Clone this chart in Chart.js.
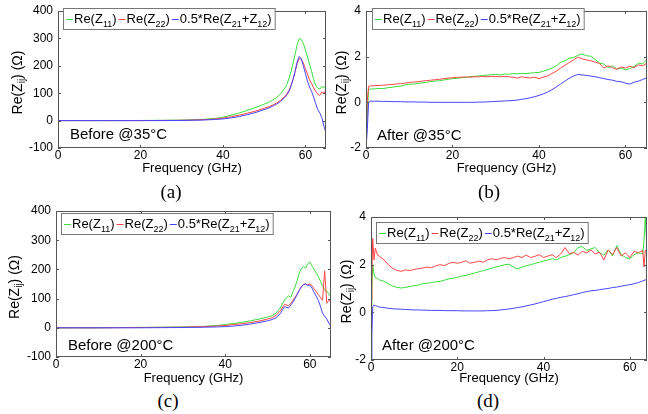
<!DOCTYPE html>
<html>
<head>
<meta charset="utf-8">
<script src="https://cdn.jsdelivr.net/npm/chart.js@4.4.1/dist/chart.umd.min.js"></script>
<style>
  body { margin: 0; background: #fff; width: 648px; height: 414px; position: relative; overflow: hidden; }
  canvas { position: absolute; }
  .cap { position: absolute; font-family: "Liberation Serif", "Times New Roman", serif; font-size: 19px;
         transform: translate(-50%, -50%); line-height: 1; color: #000; }
</style>
</head>
<body>
<canvas id="ca" width="330" height="175" style="left:0;top:0"></canvas>
<canvas id="cb" width="318" height="175" style="left:330px;top:0"></canvas>
<canvas id="cc" width="334" height="185" style="left:0;top:200px"></canvas>
<canvas id="cd" width="314" height="185" style="left:334px;top:200px"></canvas>
<div class="cap" style="left:171px;top:191px">(a)</div>
<div class="cap" style="left:489px;top:191px">(b)</div>
<div class="cap" style="left:168px;top:400px">(c)</div>
<div class="cap" style="left:488px;top:400px">(d)</div>
<script>
// frequency grids (GHz)
const freqAC = [0,5,10,15,20,25,30,35,38,40,42,44,46,48,50,51,52,53,54,55,55.5,56,56.5,57,57.5,58,58.5,59,59.5,60,60.5,61,61.5,62,62.5,63,63.5,64,64.5,65];
const freqB = [0,0.3,0.6,1,2,3,4,5,6,7,8,9,10,11,12,13,14,15,16,17,18,19,20,21,22,23,24,25,26,27,28,29,30,31,32,33,34,35,36,37,38,39,40,41,42,43,44,45,46,47,48,49,50,51,52,53,54,55,56,57,58,59,60,61,62,63,64,65];
const freqD = [0,0.2,0.4,0.7,1,1.5,2,3,4,5,6,7,8,9,10,11,12,13,14,15,16,17,18,19,20,21,22,23,24,25,26,27,28,29,30,31,32,33,34,35,36,37,38,39,40,41,42,43,44,45,46,47,48,49,50,51,52,53,54,55,56,57,58,59,60,61,62,63,63.3,63.6,64];

// (a) Before @35°C
const a11 = [0,0,0,0,0.5,1,2,4,8,12,20,28,38,48,60,66,74,84,98,118,132,152,178,208,242,276,300,296,282,258,232,206,180,150,128,118,115,125,120,130];
const a22 = [0,0,0,0,0,0.5,1,3,6,9,14,20,27,35,45,50,56,64,74,88,97,110,128,150,178,208,226,224,210,190,170,150,135,120,106,96,92,104,100,112];
const a12 = [0,0,0,0,0,0,0.5,2,4,6,10,15,22,30,40,45,52,60,70,84,94,106,125,150,180,214,234,226,200,172,145,122,106,86,62,40,28,10,-20,-45];

// (b) After @35°C
const b11 = [-2,-0.6,0.56,0.58,
  0.59,0.61,0.6,0.64,0.66,0.69,0.71,0.76,0.79,0.8,
  0.83,0.85,0.88,0.91,0.93,0.95,0.98,1.01,1.04,1.05,
  1.08,1.09,1.12,1.14,1.15,1.18,1.19,1.21,1.22,1.2,
  1.24,1.23,1.26,1.25,1.27,1.26,1.28,1.3,1.31,1.36,
  1.42,1.5,1.6,1.74,1.82,1.93,1.96,2.06,2.12,2.04,
  2.02,1.88,1.72,1.68,1.52,1.6,1.46,1.5,1.42,1.48,
  1.56,1.72,1.68,1.9];
const b22 = [-2,0.1,0.7,0.72,
  0.73,0.74,0.75,0.77,0.78,0.8,0.82,0.84,0.87,0.89,
  0.9,0.93,0.95,0.97,0.99,1.01,1.04,1.06,1.08,1.09,
  1.1,1.11,1.1,1.12,1.12,1.13,1.12,1.14,1.13,1.12,
  1.14,1.12,1.1,1.06,1.12,1.08,1.07,1.1,1.04,1.1,
  1.16,1.26,1.36,1.5,1.62,1.74,1.86,1.98,1.9,1.86,
  1.82,1.76,1.7,1.5,1.6,1.52,1.45,1.55,1.5,1.58,
  1.52,1.64,1.6,1.72];
const b12 = [-2,-1.2,0,0.05,
  0.05,0.05,0.04,0.04,0.03,0.03,0.03,0.02,0.02,0.02,
  0.01,0.01,0.01,0,0,0,0,0,0,0,
  0,0,0,0,0.01,0.01,0.02,0.03,0.04,0.05,
  0.06,0.07,0.08,0.1,0.13,0.16,0.2,0.25,0.3,0.37,
  0.45,0.55,0.67,0.8,0.93,1.05,1.15,1.22,1.2,1.18,
  1.15,1.12,1.08,1.04,1,0.97,0.92,0.9,0.84,0.8,
  0.88,0.93,1,1.08];

// (c) Before @200°C
const c11 = [0,0,0,1,1.5,2,3,5,8,11,15,19,24,30,37,41,50,68,95,110,104,124,140,162,188,202,210,204,220,225,212,200,188,176,160,142,130,126,115,106];
const c22 = [0,0,0,0.5,1,1.5,2,4,6,8,11,14,18,23,30,34,42,58,80,76,84,94,104,116,130,140,148,150,147,151,144,134,124,114,104,94,195,84,94,92];
const c12 = [0,0,0,0,0,0.5,1,2,3,4,6,9,13,18,24,28,34,48,72,68,78,88,100,114,128,140,148,150,145,146,136,122,108,94,74,50,40,30,16,5];

// (d) After @200°C
const d11 = [0.3,1.0,2.0,1.6,1.45,1.42,1.36,
  1.3,1.2,1.1,1.05,1.02,1.05,1.08,1.12,1.15,1.2,
  1.22,1.25,1.28,1.3,1.35,1.4,1.43,1.47,1.52,1.55,
  1.6,1.65,1.7,1.75,1.8,1.85,1.9,1.95,2.0,2.02,
  1.9,1.82,1.9,1.95,2.0,2.05,2.1,2.15,2.2,2.25,
  2.2,2.3,2.35,2.42,2.5,2.72,2.76,2.6,2.66,2.72,
  2.5,2.4,2.62,2.36,2.8,2.42,2.3,2.25,2.42,2.5,
  2.45,3.0,4.0,2.6];
const d22 = [0.5,1.6,3.1,2.2,2.7,2.4,2.35,
  2.2,2.0,1.85,1.76,1.72,1.78,1.75,1.8,1.83,1.86,
  1.9,1.87,1.95,2.0,1.96,2.05,2.1,2.06,2.1,2.16,
  2.06,2.1,2.15,2.1,2.2,2.25,2.2,2.26,2.3,2.24,
  2.3,2.36,2.3,2.4,2.3,2.35,2.42,2.3,2.36,2.42,
  2.3,2.45,2.72,2.45,2.52,2.4,2.56,2.5,2.62,2.46,
  2.52,2.2,2.62,2.42,2.72,2.36,2.5,2.3,2.56,2.5,
  2.6,1.9,2.6,2.5];
const d12 = [-2,-1.0,0.25,0.3,0.28,0.25,0.22,
  0.2,0.17,0.15,0.14,0.13,0.12,0.11,0.1,0.1,0.09,
  0.09,0.08,0.08,0.08,0.07,0.07,0.07,0.07,0.06,0.06,
  0.06,0.06,0.06,0.06,0.07,0.07,0.08,0.1,0.12,0.14,
  0.17,0.2,0.23,0.27,0.31,0.35,0.4,0.45,0.5,0.55,
  0.59,0.63,0.66,0.7,0.74,0.78,0.83,0.87,0.9,0.92,
  0.95,0.98,1.0,1.04,1.06,1.1,1.13,1.16,1.2,1.25,
  1.32,1.34,1.36,1.38];

const colors = ['#3ade3a', '#ff4545', '#4545ff'];
const seriesNames = [
  [['Re(Z', 0], ['11', 1], [')', 0]],
  [['Re(Z', 0], ['22', 1], [')', 0]],
  [['0.5*Re(Z', 0], ['21', 1], ['+Z', 0], ['12', 1], [')', 0]]
];
const yTitle = [['Re(Z', 0], ['ij', 1], [') (\u03a9)', 0]];
const SANS = '"Liberation Sans", Arial, sans-serif';

// draws text with subscripts, returns width
function drawRich(ctx, parts, x, y, size) {
  let w = 0;
  parts.forEach(p => {
    const s = p[1] ? Math.round(size * 0.7) : size;
    ctx.font = s + 'px ' + SANS;
    ctx.fillText(p[0], x + w, y + (p[1] ? size * 0.3 : 0));
    w += ctx.measureText(p[0]).width;
  });
  return w;
}

function richWidth(ctx, parts, size) {
  let w = 0;
  parts.forEach(p => {
    ctx.font = (p[1] ? Math.round(size * 0.7) : size) + 'px ' + SANS;
    w += ctx.measureText(p[0]).width;
  });
  return w;
}

const decor = {
  id: 'decor',
  afterDraw(chart, args, opts) {
    const ctx = chart.ctx;
    const {left, right, top, bottom} = chart.chartArea;
    const xs = chart.scales.x, ys = chart.scales.y;
    ctx.save();
    // axes box + inner ticks
    ctx.strokeStyle = '#555';
    ctx.lineWidth = 1;
    ctx.strokeRect(left + 0.5, top + 0.5, right - left - 1, bottom - top - 1);
    ctx.beginPath();
    xs.ticks.forEach(t => {
      const px = Math.round(xs.getPixelForValue(t.value)) + 0.5;
      ctx.moveTo(px, bottom); ctx.lineTo(px, bottom - 3);
      ctx.moveTo(px, top); ctx.lineTo(px, top + 3);
    });
    ys.ticks.forEach(t => {
      const py = Math.round(ys.getPixelForValue(t.value)) + 0.5;
      ctx.moveTo(left, py); ctx.lineTo(left + 3, py);
      ctx.moveTo(right, py); ctx.lineTo(right - 3, py);
    });
    ctx.stroke();

    // legend
    const lx = opts.legendX, ly = opts.legendY, lh = 21;
    let w = 4;
    seriesNames.forEach(n => { w += 8 + richWidth(ctx, n, 13) + 2; });
    ctx.fillStyle = '#fff';
    ctx.fillRect(lx, ly, w, lh);
    ctx.strokeStyle = '#777';
    ctx.strokeRect(lx + 0.5, ly + 0.5, w, lh);
    let x = lx + 3;
    seriesNames.forEach((n, i) => {
      ctx.strokeStyle = colors[i];
      ctx.beginPath();
      ctx.moveTo(x, ly + 11.5); ctx.lineTo(x + 7, ly + 11.5);
      ctx.stroke();
      x += 8;
      ctx.fillStyle = '#000';
      ctx.textBaseline = 'alphabetic';
      x += drawRich(ctx, n, x, ly + 15, 13) + 2;
    });

    // annotation
    ctx.fillStyle = '#000';
    ctx.font = '15px ' + SANS;
    ctx.textBaseline = 'middle';
    ctx.fillText(opts.note, opts.noteX, opts.noteY);

    // y axis title
    ctx.translate(opts.titleX, (top + bottom) / 2 + 3);
    ctx.rotate(-Math.PI / 2);
    ctx.textBaseline = 'middle';
    const tw = richWidth(ctx, yTitle, 14);
    drawRich(ctx, yTitle, -tw / 2, 0, 14);
    ctx.restore();
  }
};

function makeChart(id, freq, vals, yMin, yMax, yStep, xMax, area, deco) {
  const cv = document.getElementById(id);
  const W = cv.width, H = cv.height;
  const datasets = vals.map((v, i) => ({
    data: freq.map((f, k) => ({x: f, y: v[k]})),
    borderColor: colors[i],
    borderWidth: 1,
    pointRadius: 0,
    fill: false,
    tension: 0,
    order: 2 - i
  }));
  return new Chart(cv.getContext('2d'), {
    type: 'line',
    data: { datasets },
    options: {
      responsive: false,
      animation: false,
      events: [],
      layout: { padding: { left: 0, top: area.t, right: W - area.r, bottom: 0 } },
      plugins: { legend: { display: false }, tooltip: { enabled: false }, decor: deco },
      scales: {
        x: {
          type: 'linear', min: 0, max: xMax,
          grid: { display: false, drawTicks: false },
          border: { display: false },
          ticks: { stepSize: 20, includeBounds: false, padding: 2, color: '#000',
                   font: { family: SANS, size: 12, lineHeight: 1 } },
          title: { display: true, text: 'Frequency (GHz)', color: '#000', padding: 0,
                   font: { family: SANS, size: 13, lineHeight: 1 } },
          afterFit: s => { s.height = H - area.b; }
        },
        y: {
          min: yMin, max: yMax,
          grid: { display: false, drawTicks: false },
          border: { display: false },
          ticks: { stepSize: yStep, padding: 5, color: '#000',
                   font: { family: SANS, size: 12, lineHeight: 1 } },
          afterFit: s => { s.width = area.l; }
        }
      }
    },
    plugins: [decor]
  });
}

makeChart('ca', freqAC, [a11, a22, a12], -100, 400, 100, 65,
  { l: 58, t: 6, r: 326, b: 148 },
  { legendX: 63, legendY: 8, note: 'Before @35\u00b0C', noteX: 70, noteY: 135, titleX: 18 });
makeChart('cb', freqB, [b11, b22, b12], -2, 4, 2, 65,
  { l: 36, t: 6, r: 317, b: 148 },
  { legendX: 42, legendY: 8, note: 'After @35\u00b0C', noteX: 47, noteY: 136, titleX: 12 });
makeChart('cc', freqAC, [c11, c22, c12], -100, 400, 100, 65,
  { l: 56, t: 11, r: 331, b: 157 },
  { legendX: 61, legendY: 13, note: 'Before @200\u00b0C', noteX: 68, noteY: 146, titleX: 15 });
makeChart('cd', freqD, [d11, d22, d12], -2, 4, 2, 64,
  { l: 37, t: 17, r: 313, b: 160 },
  { legendX: 42, legendY: 22, note: 'After @200\u00b0C', noteX: 48, noteY: 146, titleX: 13 });
</script>
</body>
</html>
